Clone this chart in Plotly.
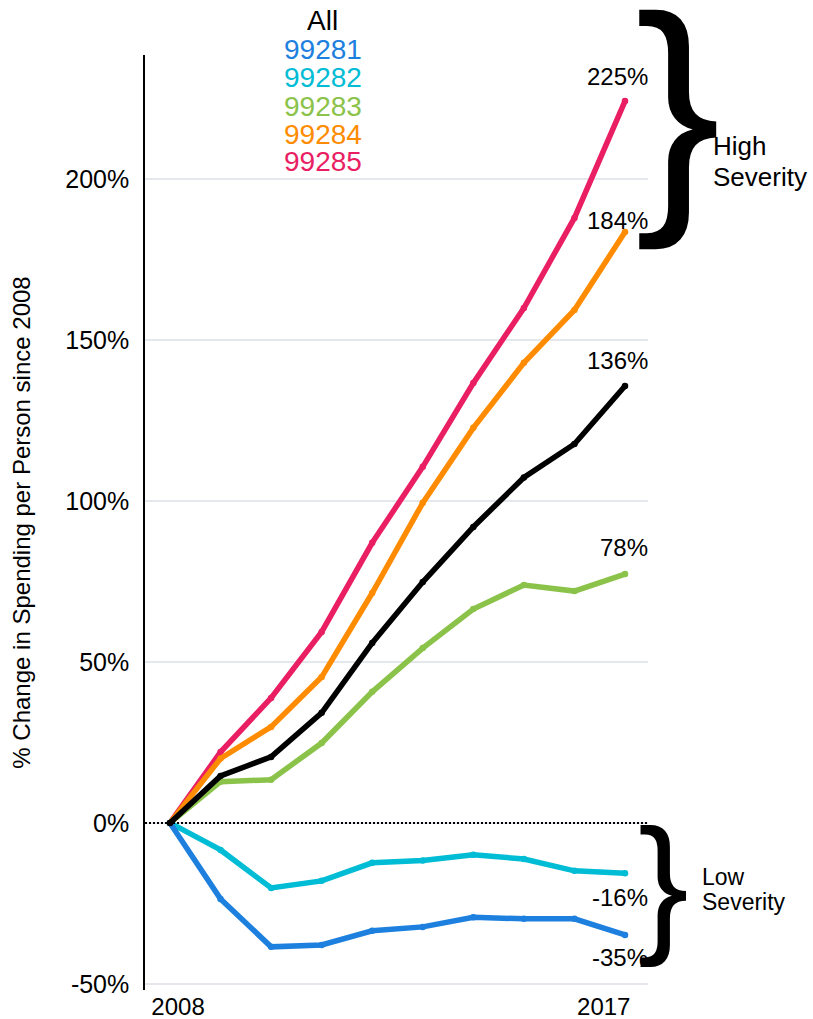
import plotly.graph_objects as go

# ---------------- data ----------------
years = [2008, 2009, 2010, 2011, 2012, 2013, 2014, 2015, 2016, 2017]

series_names = ["99285", "99284", "99283", "99282", "99281", "All"]
colors = {
    "All": "#000000",
    "99281": "#1E80DE",
    "99282": "#00BCD4",
    "99283": "#8BC34A",
    "99284": "#FF8C00",
    "99285": "#E91E63",
}

all_vals = [0, 14.6, 20.5, 34.2, 55.9, 74.8, 91.9, 107.3, 117.7, 135.7]
v99281 = [0, -23.6, -38.5, -37.9, -33.5, -32.3, -29.3, -29.8, -29.8, -34.8]
v99282 = [0, -8.4, -20.2, -18.0, -12.4, -11.7, -9.9, -11.2, -14.9, -15.6]
v99283 = [0, 12.8, 13.4, 24.8, 40.7, 54.3, 66.4, 73.9, 72.0, 77.3]
v99284 = [0, 20.0, 29.8, 45.3, 71.4, 99.4, 122.7, 142.9, 159.3, 183.5]
v99285 = [0, 22.0, 38.8, 59.3, 87.0, 110.6, 136.6, 159.9, 187.9, 224.2]

values = {
    "All": all_vals,
    "99281": v99281,
    "99282": v99282,
    "99283": v99283,
    "99284": v99284,
    "99285": v99285,
}

end_labels = {
    "99285": "225%",
    "99284": "184%",
    "All": "136%",
    "99283": "78%",
    "99282": "-16%",
    "99281": "-35%",
}

y_tick_vals = [-50, 0, 50, 100, 150, 200]
y_tick_text = ["-50%", "0%", "50%", "100%", "150%", "200%"]
x_tick_text = ["2008", "2017"]
legend_order = ["All", "99281", "99282", "99283", "99284", "99285"]

# ---------------- layout constants ----------------
W, H = 813, 1019
ML, MR, MT, MB = 145, 165, 55, 29
PW = W - ML - MR
PH = H - MT - MB
FONT = "Liberation Sans, Arial, sans-serif"


def px_x(x):
    return (x - ML) / PW


def px_y(y):
    return (H - MB - y) / PH


fig = go.Figure()

for name in series_names:
    fig.add_trace(go.Scatter(
        x=years, y=values[name], mode="lines+markers", name=name,
        line=dict(color=colors[name], width=5.5),
        marker=dict(color=colors[name], size=6.5),
        showlegend=False, hoverinfo="skip",
    ))

annotations = []

# end-of-line value labels
label_offsets = {"99285": 25, "99284": 12, "All": 25, "99283": 27, "99282": -24, "99281": -23}
for name, txt in end_labels.items():
    annotations.append(dict(
        x=years[-1], y=values[name][-1], xref="x", yref="y",
        text=txt, showarrow=False, xanchor="right", yanchor="middle",
        xshift=25, yshift=label_offsets[name],
        font=dict(family=FONT, size=24, color="black"),
    ))

# legend-like text block at top
legend_y = [20.5, 49, 77.5, 106, 134.5, 162]
for name, yy in zip(legend_order, legend_y):
    annotations.append(dict(
        x=px_x(322.5), y=px_y(yy), xref="paper", yref="paper",
        text=name, showarrow=False, xanchor="center", yanchor="middle",
        font=dict(family=FONT, size=28, color=colors[name]),
    ))

# braces
annotations.append(dict(
    x=px_x(678), y=px_y(107), xref="paper", yref="paper", text="}",
    showarrow=False, xanchor="center", yanchor="middle",
    font=dict(family=FONT, size=257, color="black"),
))
annotations.append(dict(
    x=px_x(663), y=px_y(882), xref="paper", yref="paper", text="}",
    showarrow=False, xanchor="center", yanchor="middle",
    font=dict(family=FONT, size=152, color="black"),
))

# severity texts
for txt, xx, yy, sz in [("High", 711, 146, 26), ("Severity", 711, 177, 26),
                        ("Low", 700, 877, 23), ("Severity", 700, 902, 23)]:
    annotations.append(dict(
        x=px_x(xx), y=px_y(yy), xref="paper", yref="paper", text=txt,
        showarrow=False, xanchor="left", yanchor="middle",
        font=dict(family=FONT, size=sz, color="black"),
    ))

fig.update_layout(
    width=W, height=H, autosize=False,
    margin=dict(l=ML, r=MR, t=MT, b=MB, pad=0, autoexpand=False),
    paper_bgcolor="white", plot_bgcolor="white",
    font=dict(family=FONT, color="black"),
    annotations=annotations,
    shapes=[dict(
        type="line", xref="paper", x0=0, x1=1, yref="y", y0=0, y1=0,
        line=dict(color="black", width=2, dash="2px,2px"), layer="above",
    )],
    xaxis=dict(
        range=[2007.506, 2017.455], showgrid=False, zeroline=False,
        showline=False, ticks="", tickvals=[2008.16, 2016.58],
        ticktext=x_tick_text, tickfont=dict(size=24, color="black"),
        ticklabelstandoff=0, automargin=False,
    ),
    yaxis=dict(
        range=[-51.9, 238.5], tickvals=y_tick_vals, ticktext=y_tick_text,
        showgrid=True, gridcolor="#E4E7EB", gridwidth=1.5,
        zeroline=False, showline=True, linecolor="black", linewidth=1.5,
        ticks="", ticklabelstandoff=9, automargin=False,
        tickfont=dict(size=25, color="black"),
        title=dict(text="% Change in Spending per Person since 2008",
                   font=dict(size=24, color="black"), standoff=28),
    ),
)

fig.write_html(
    "out.html",
    config={"displayModeBar": False},
    post_script="document.body.style.margin='0';document.body.style.padding='0';",
)
